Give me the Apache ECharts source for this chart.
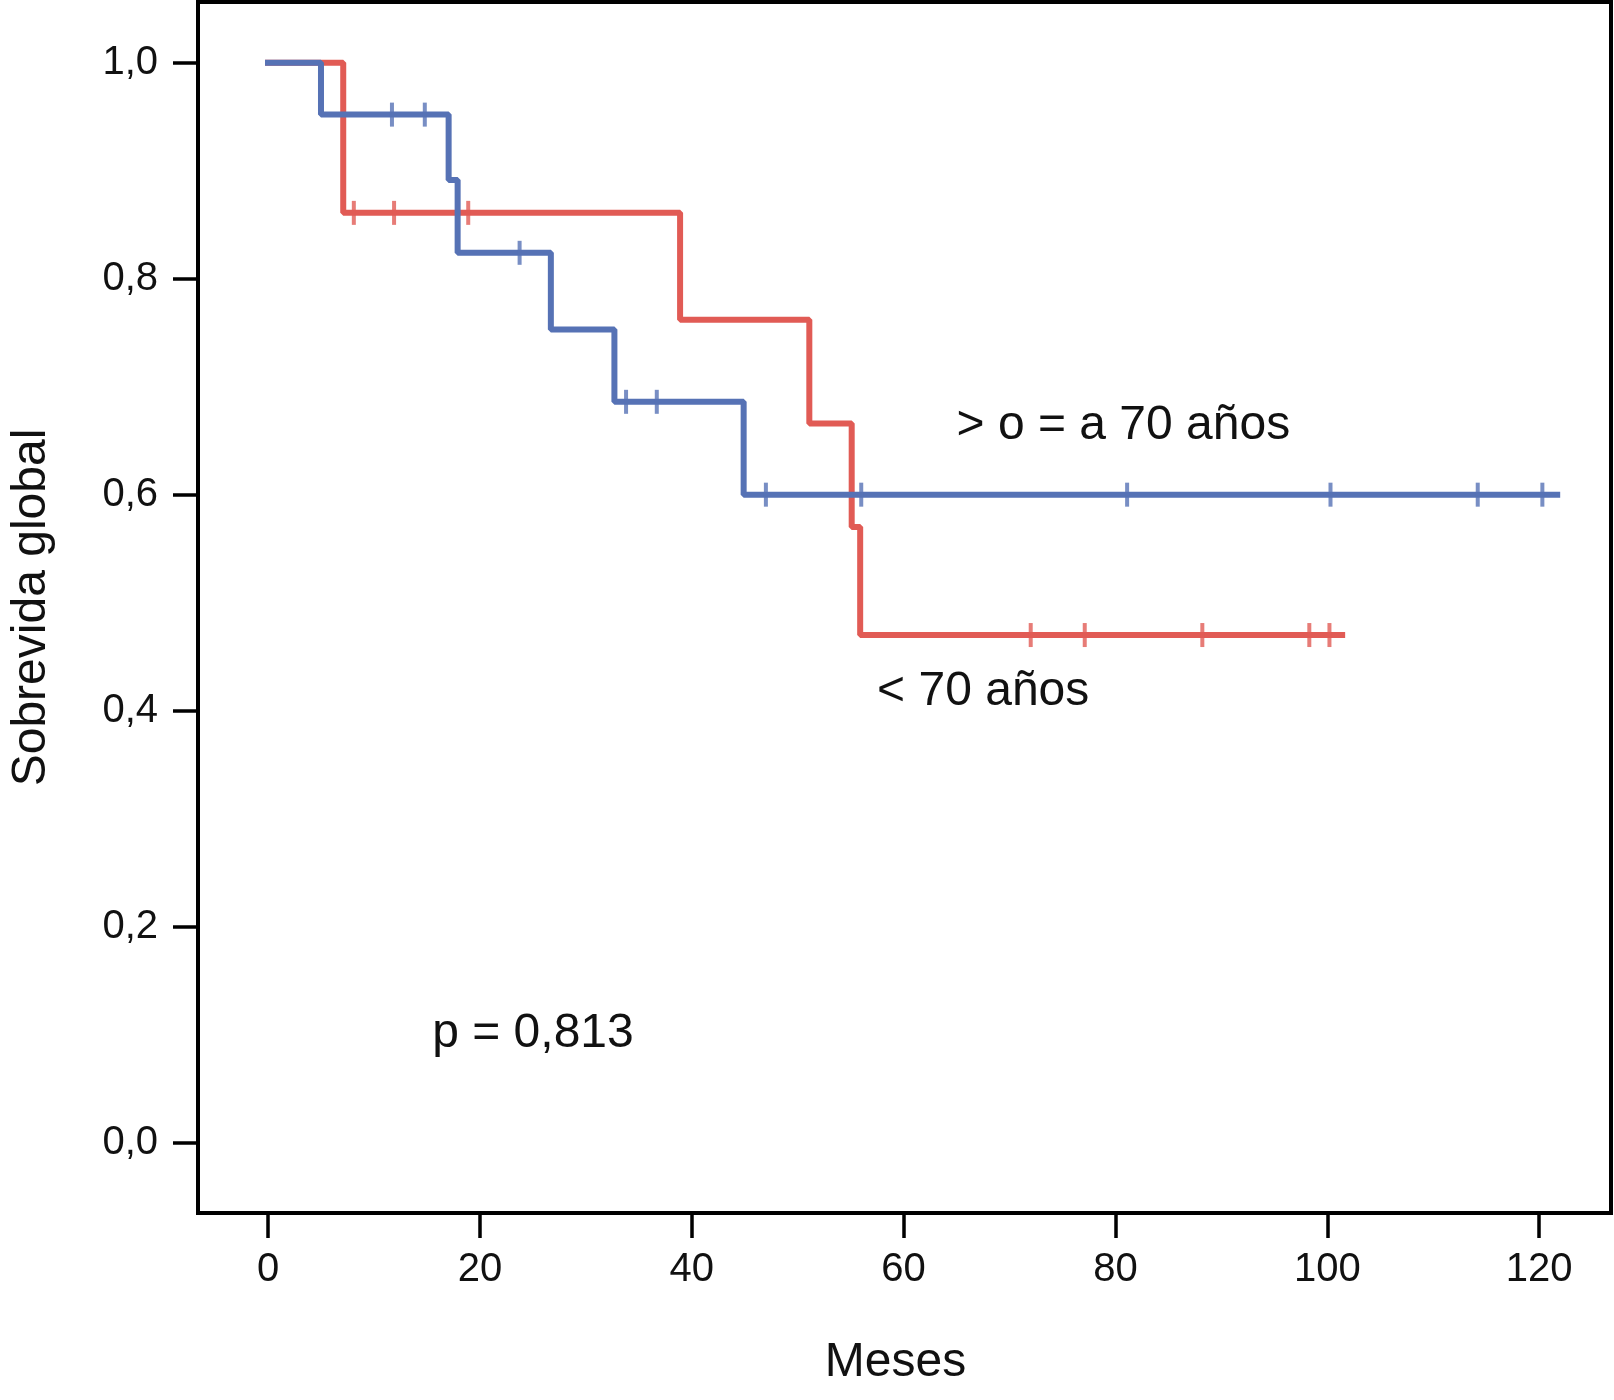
<!DOCTYPE html>
<html><head><meta charset="utf-8">
<script src="https://cdn.jsdelivr.net/npm/echarts@6/dist/echarts.min.js"></script>
<style>html,body{margin:0;padding:0;background:#fff}#c{width:1614px;height:1400px}</style>
</head><body><div id="c"></div>
<script>
const xTicks=[0,20,40,60,80,100,120];
const yTicks=[0,0.2,0.4,0.6,0.8,1.0];
const blueTimes=[0,5.0,17.05,17.9,26.7,32.7,44.9,121.7];
const blueSurv=[1,0.952,0.8915,0.824,0.753,0.686,0.6,0.6];
const blueCensorTimes=[11.7,14.8,23.75,33.8,36.7,47.0,56.0,81.1,100.3,114.2,120.3];
const blueCensorSurv=[0.952,0.952,0.824,0.686,0.686,0.6,0.6,0.6,0.6,0.6,0.6];
const redTimes=[0,7.1,38.9,51.1,55.1,55.9,101.4];
const redSurv=[1,0.861,0.762,0.666,0.57,0.47,0.47];
const redCensorTimes=[8.1,11.9,18.9,72.0,77.1,88.2,98.3,100.2];
const redCensorSurv=[0.861,0.861,0.861,0.47,0.47,0.47,0.47,0.47];
const annotations=[
  {text:'> o = a 70 años',x:65.0,y:0.664},
  {text:'< 70 años',x:57.5,y:0.417},
  {text:'p = 0,813',x:15.5,y:0.101}
];
const FONT='"Liberation Sans", Arial, Helvetica, sans-serif';
const BLUE='#5672b5', RED='#e15b55', INK='#111';
const zip=(a,b)=>a.map((v,i)=>[v,b[i]]);

const chart=echarts.init(document.getElementById('c'),null,{renderer:'canvas'});
chart.setOption({
  animation:false,
  backgroundColor:'#fff',
  grid:{left:190,right:3,top:2,bottom:187,show:true,borderColor:'#000',borderWidth:4,backgroundColor:'transparent'},
  xAxis:{type:'value',min:-6.61,max:126.78,
    name:'Meses',nameLocation:'middle',nameGap:126,
    nameTextStyle:{fontFamily:FONT,fontSize:48,color:INK,padding:[0,18,0,0]},
    axisLine:{show:true,onZero:false,lineStyle:{color:'#000',width:4}},splitLine:{show:false},
    axisTick:{show:true,inside:false,length:25,customValues:xTicks,lineStyle:{color:'#000',width:3.5}},
    axisLabel:{customValues:xTicks,margin:37,fontFamily:FONT,fontSize:40,color:INK}
  },
  yAxis:{type:'value',min:-0.0653,max:1.0563,
    name:'Sobrevida global',nameLocation:'middle',nameGap:142,
    nameTextStyle:{fontFamily:FONT,fontSize:48,color:INK},
    axisLine:{show:true,onZero:false,lineStyle:{color:'#000',width:4}},splitLine:{show:false},
    axisTick:{show:true,inside:false,length:25,customValues:yTicks,lineStyle:{color:'#000',width:3.5}},
    axisLabel:{customValues:yTicks,margin:40,fontFamily:FONT,fontSize:40,color:INK,
      formatter:v=>v.toFixed(1).replace('.',',')}
  },
  series:[
    {type:'line',step:'end',data:zip(redTimes,redSurv),symbol:'none',lineStyle:{color:RED,width:6,cap:'square'},z:2},
    {type:'scatter',data:zip(redCensorTimes,redCensorSurv),symbol:'rect',symbolSize:[4,24],itemStyle:{color:RED},z:3},
    {type:'line',step:'end',data:zip(blueTimes,blueSurv),symbol:'none',lineStyle:{color:BLUE,width:6,cap:'square'},z:4},
    {type:'scatter',data:zip(blueCensorTimes,blueCensorSurv),symbol:'rect',symbolSize:[4,24],itemStyle:{color:BLUE},z:5}
  ]
});
const g=annotations.map(a=>{
  const p=chart.convertToPixel({gridIndex:0},[a.x,a.y]);
  return {type:'text',x:p[0],y:p[1],z:10,style:{text:a.text,fill:INK,font:'48px '+FONT,align:'left',verticalAlign:'middle'}};
});
chart.setOption({graphic:g});
</script></body></html>
